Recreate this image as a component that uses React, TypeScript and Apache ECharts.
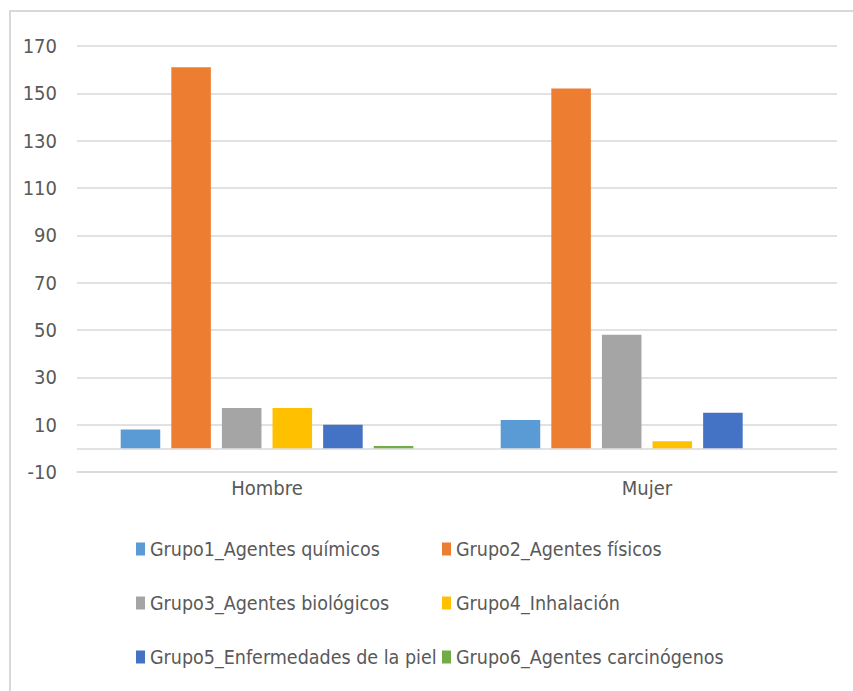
import React, { useEffect, useRef } from "react";
import * as echarts from "echarts";

const categories = ["Hombre", "Mujer"];
const seriesNames = [
  "Grupo1_Agentes químicos",
  "Grupo2_Agentes físicos",
  "Grupo3_Agentes biológicos",
  "Grupo4_Inhalación",
  "Grupo5_Enfermedades de la piel",
  "Grupo6_Agentes carcinógenos",
];
const grupo1 = [8, 12];
const grupo2 = [161, 152];
const grupo3 = [17, 48];
const grupo4 = [17, 3];
const grupo5 = [10, 15];
const grupo6 = [1, 0];
const seriesValues = [grupo1, grupo2, grupo3, grupo4, grupo5, grupo6];
const colors = ["#5b9bd5", "#ed7d31", "#a5a5a5", "#ffc000", "#4472c4", "#70ad47"];

const FONT = "'Liberation Sans Narrow', 'DejaVu Sans Condensed', 'Noto Sans', sans-serif";

export default function App() {
  const ref = useRef<HTMLDivElement>(null);
  useEffect(() => {
    if (!ref.current) return;
    const chart = echarts.init(ref.current, null, { renderer: "svg" });
    const series: any[] = seriesNames.map((name, i) => ({
      name,
      type: "bar",
      data: seriesValues[i],
      itemStyle: { color: colors[i] },
      barGap: "28%",
      barCategoryGap: "23%",
    }));
    series[0].markLine = {
      silent: true,
      symbol: "none",
      label: { show: false },
      lineStyle: { color: "#d9d9d9", width: 1.5, type: "solid" },
      data: [{ yAxis: 0 }],
      z: 1,
    };
    const legendCommon = {
      orient: "vertical",
      top: 539,
      padding: 0,
      itemWidth: 9,
      itemHeight: 13,
      itemGap: 34,
      icon: "rect",
      textStyle: { color: "#595959", fontSize: 19.5, fontFamily: FONT },
    };
    chart.setOption({
      animation: false,
      backgroundColor: "#ffffff",
      graphic: [
        {
          type: "rect",
          shape: { x: 10, y: 11, width: 860, height: 700 },
          style: { fill: "none", stroke: "#d9d9d9", lineWidth: 2 },
          silent: true,
        },
      ],
      grid: { left: 77, right: 16, top: 46, bottom: 219 },
      xAxis: {
        type: "category",
        data: categories,
        axisLine: { onZero: false, lineStyle: { color: "#d9d9d9", width: 1.5 } },
        axisTick: { show: false },
        axisLabel: { color: "#595959", fontSize: 20, fontFamily: FONT, margin: 6 },
      },
      yAxis: {
        type: "value",
        min: -10,
        max: 170,
        interval: 20,
        axisLine: { show: false },
        axisTick: { show: false },
        splitLine: { lineStyle: { color: "#d9d9d9", width: 1.5 } },
        axisLabel: { color: "#595959", fontSize: 20, fontFamily: FONT, margin: 20 },
      },
      legend: [
        { ...legendCommon, left: 136, data: [seriesNames[0], seriesNames[2], seriesNames[4]] },
        { ...legendCommon, left: 442, data: [seriesNames[1], seriesNames[3], seriesNames[5]] },
      ],
      series,
    });
    return () => chart.dispose();
  }, []);
  return (
    <div style={{ position: "fixed", left: 0, top: 0, width: 853, height: 691, background: "#fff" }}>
      <div ref={ref} style={{ width: 853, height: 691 }} />
    </div>
  );
}
